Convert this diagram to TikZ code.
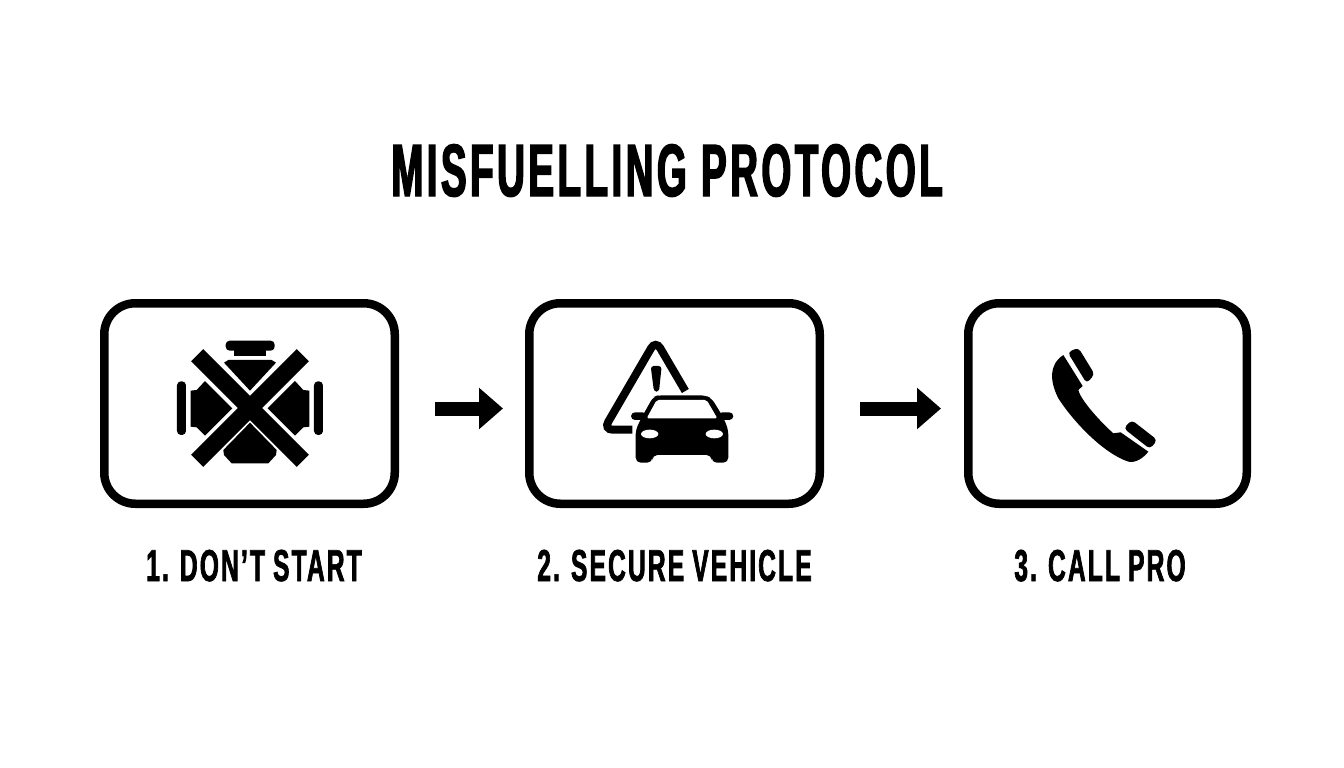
\documentclass[tikz,border=0pt]{standalone}
\usepackage{fontspec}
\usetikzlibrary{arrows.meta}
\newfontfamily\titlefont[FakeStretch=0.52, FakeBold=2, LetterSpace=4.7]{Liberation Sans Bold}
\newfontfamily\labelfont[FakeStretch=0.55, FakeBold=1.5, LetterSpace=4.8, WordSpace=0.9]{Liberation Sans Bold}
\tikzset{
    stepbox/.style={draw=black, line width=8.5pt, rounded corners=31pt, minimum height=200.5pt},
    steplabel/.style={anchor=base, inner sep=0, font=\labelfont\fontsize{44.7}{50}\selectfont},
    flowarrow/.style={line width=14pt, -{Triangle[length=24pt, width=40pt]}, shorten <=36pt},
    icon/.style={shift={#1}, scale=0.3333}
}
\begin{document}
\begin{tikzpicture}[x=1pt, y=-1pt]
    \useasboundingbox (0,0) rectangle (1344,768);
    \fill[white] (0,0) rectangle (1344,768);

    \node[anchor=base, inner sep=0, font=\titlefont\fontsize{74}{80}\selectfont] (title) at (667,196) {MISFUELLING PROTOCOL};

    \node[stepbox, minimum width=290.5pt] (box1) at (249.5,403.5) {};
    \node[stepbox, minimum width=290.5pt] (box2) at (674.5,403.5) {};
    \node[stepbox, minimum width=278.5pt] (box3) at (1107.5,403.5) {};

    \node[steplabel] (label1) at (254,581) {1. DON’T START};
    \node[steplabel] (label2) at (674.5,581) {2. SECURE VEHICLE};
    \node[steplabel] (label3) at (1100,581) {3. CALL PRO};

    \draw[flowarrow, shorten >=22pt] ([yshift=-5pt]box1.east) -- ([yshift=-5pt]box2.west);
    \draw[flowarrow, shorten >=23pt] ([yshift=-5pt]box2.east) -- ([yshift=-5pt]box3.west);

    % engine with a cross over it
    \begin{scope}[icon={(150,320)}]
        \fill[rounded corners=4pt] (227,62) rectangle (374,92);
        \fill (253,88) rectangle (349,107);
        \fill (222,128) -- (235,120) -- (365,120) -- (378,128) -- (300,212) -- cycle;
        \fill (122,212) -- (140,210) -- (165,183) -- (247,265) -- (165,347) -- (140,322) -- (122,320) -- cycle;
        \fill (478,212) -- (460,210) -- (435,183) -- (353,265) -- (435,347) -- (460,322) -- (478,320) -- cycle;
        \fill (300,308) -- (380,390) -- (378,405) -- (355,430) -- (245,430) -- (222,405) -- (220,390) -- cycle;
        \fill[rounded corners=4pt] (81,184) rectangle (108,345);
        \fill[rounded corners=4pt] (492,184) rectangle (519,345);
        \draw[line width=17pt] (141.5,105.5) -- (458.5,422.5);
        \draw[line width=17pt] (458.5,105.5) -- (141.5,422.5);
    \end{scope}

    % warning triangle behind a car
    \begin{scope}[icon={(590,330)}]
        \draw[line width=8pt, rounded corners=9pt] (127,299) -- (41,299) -- (197,31) -- (286,183);
        \fill[rounded corners=3pt] (182,108) -- (215,108) -- (207,185) -- (192,185) -- cycle;
        \fill[rounded corners=4pt] (123,247) rectangle (170,270);
        \fill[rounded corners=4pt] (385,247) rectangle (430,270);
        \fill[rounded corners=5pt] (137,300) -- (155,262) -- (190,200) -- (205,196) -- (345,196) -- (365,205) -- (400,262) -- (415,300) -- (415,398) -- (365,398) -- (365,375) -- (187,375) -- (187,398) -- (137,398) -- cycle;
        \fill[white, rounded corners=2pt] (170,265) -- (200,210) -- (350,210) -- (382,265) -- cycle;
        \fill[white] (179,312) ellipse [x radius=26, y radius=13];
        \fill[white] (373,312) ellipse [x radius=26, y radius=13];
    \end{scope}

    % telephone handset
    \begin{scope}[icon={(1030,335)}]
        \fill (100,60) -- (158,153) -- (145,165) .. controls (150,190) and (200,250) .. (250,295) -- (272,292) -- (355,350) .. controls (340,370) and (315,385) .. (295,380) .. controls (220,355) and (130,260) .. (85,190) .. controls (60,140) and (55,90) .. (100,60) -- cycle;
        \fill[rounded corners=4pt] (113,52) -- (145,38) -- (194,118) -- (170,145) -- cycle;
        \fill[rounded corners=4pt] (281,280) -- (305,255) -- (382,315) -- (360,342) -- cycle;
    \end{scope}
\end{tikzpicture}
\end{document}
